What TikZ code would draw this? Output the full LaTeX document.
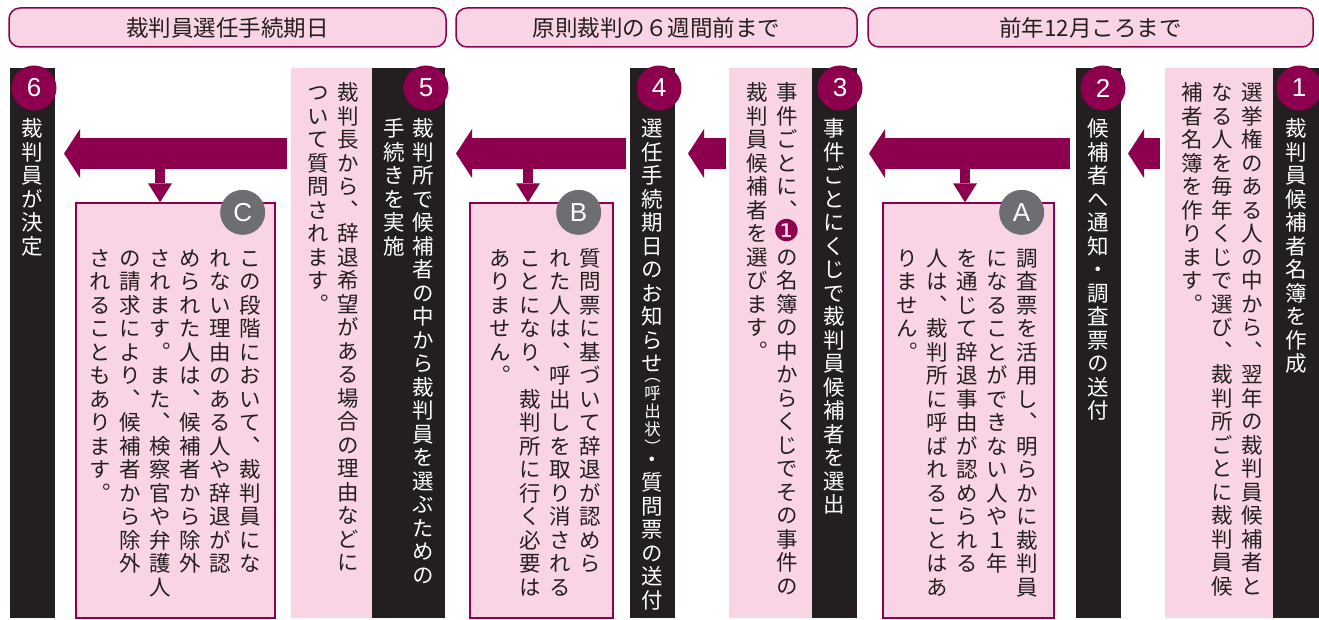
\documentclass[tikz,border=0pt]{standalone}
\usepackage{fontspec}
\setmainfont{Noto Sans CJK JP}
\newfontfamily\tatefont{Noto Sans CJK JP}[RawFeature=+vert]
\newfontfamily\numfont{Liberation Sans}
\newfontfamily\dingfont{DejaVu Sans}
\usetikzlibrary{arrows.meta, positioning}
\definecolor{saibanred}{RGB}{140,0,78}
\definecolor{saibanpink}{RGB}{249,212,229}
\definecolor{saibanblack}{RGB}{35,31,32}
\definecolor{saibangray}{RGB}{109,110,113}

% vertical (tategaki) columns
\newdimen\tatepitch \tatepitch=23.5pt
\newdimen\tatecell \tatecell=24pt
\newdimen\tatecolsep \tatecolsep=6pt
\newcommand\tatecellbox[1]{\hbox to\tatecell{\hss\smash{#1}\hss\vrule height .88\tatepitch depth .12\tatepitch width 0pt}}
\newcommand\maruichi{\raisebox{0pt}{\dingfont\fontsize{30}{30}\selectfont\color{saibanred}❶}}
\ExplSyntaxOn
\NewDocumentCommand \tatecol { m }
  {
    \vtop { \offinterlineskip \tl_map_inline:nn {#1} { \tatecellbox {##1} } }
  }
\seq_new:N \l_tate_cols_seq
\seq_new:N \l_tate_boxes_seq
\NewDocumentCommand \tatetext { m }
  {
    \seq_set_split:Nnn \l_tate_cols_seq { / } {#1}
    \seq_reverse:N \l_tate_cols_seq
    \seq_set_map:NNn \l_tate_boxes_seq \l_tate_cols_seq { \tatecol {##1} }
    \hbox:n { \seq_use:Nn \l_tate_boxes_seq { \hspace*{\tatecolsep} } }
  }
\ExplSyntaxOff

\begin{document}
\begin{tikzpicture}[x=1pt, y=-1pt,
    hdrbox/.style={draw=saibanred, line width=1.5pt, fill=saibanpink, rounded corners=11pt,
      minimum height=39pt, text=saibanblack, font=\fontsize{22.5}{26}\selectfont},
    blackstrip/.style={fill=saibanblack, minimum height=550pt, inner sep=0pt, outer sep=0pt},
    pinkbox/.style={fill=saibanpink, minimum height=550pt, inner sep=0pt, outer sep=0pt},
    notebox/.style={draw=saibanred, line width=1.3pt, fill=saibanpink, minimum height=415pt, inner sep=0pt},
    tatelbl/.style={inner sep=0pt, text=saibanblack, font=\tatefont\fontsize{21.5}{23.5}\selectfont},
    stepnum/.style={circle, fill=saibanred, minimum size=45pt, inner sep=0pt, text=white,
      font=\numfont\fontsize{26}{26}\selectfont},
    notenum/.style={stepnum, fill=saibangray},
    bigarrow/.style={draw=saibanred, line width=31pt, -{Triangle[length=16pt, width=49pt, line width=0pt]}},
    downarrow/.style={draw=saibanred, line width=10pt, -{Triangle[length=19pt, width=24pt, line width=0pt]}}
  ]
  \useasboundingbox (0,0) rectangle (1319,620);

  % time headers
  \node[hdrbox, minimum width=437pt] (h1) at (227.5,27.5) {裁判員選任手続期日};
  \node[hdrbox, minimum width=401pt] (h2) at (656.5,27.5) {原則裁判の６週間前まで};
  \node[hdrbox, minimum width=445pt] (h3) at (1090.5,27.5) {前年12月ころまで};

  % step strips
  \node[blackstrip, minimum width=46pt] (s1) at (1296,343) {};
  \node[blackstrip, minimum width=45pt] (s2) at (1098.5,343) {};
  \node[blackstrip, minimum width=45pt] (s3) at (834.5,343) {};
  \node[blackstrip, minimum width=45pt] (s4) at (652.5,343) {};
  \node[blackstrip, minimum width=73pt] (s5) at (408.5,343) {};
  \node[blackstrip, minimum width=45pt] (s6) at (32.5,343) {};

  % explanation boxes
  \node[pinkbox, minimum width=108pt, left=0pt of s1] (b1) {};
  \node[pinkbox, minimum width=83pt, left=0pt of s3] (b3) {};
  \node[pinkbox, minimum width=81pt, left=0pt of s5] (b5) {};
  \node[notebox, minimum width=171pt] (bA) at (968.5,410.5) {};
  \node[notebox, minimum width=143pt] (bB) at (541.5,410.5) {};
  \node[notebox, minimum width=199pt] (bC) at (175.5,410.5) {};

  % arrows
  \coordinate (arry) at (0,153.5);
  \draw[bigarrow] ([xshift=-5pt]b1.west |- arry) -- ([xshift=7pt]s2.east |- arry);
  \draw[bigarrow] ([xshift=-6pt]s2.west |- arry) -- ([xshift=12pt]s3.east |- arry);
  \draw[bigarrow] ([xshift=-3pt]b3.west |- arry) -- ([xshift=13pt]s4.east |- arry);
  \draw[bigarrow] ([xshift=-4pt]s4.west |- arry) -- ([xshift=11pt]s5.east |- arry);
  \draw[bigarrow] ([xshift=-4pt]b5.west |- arry) -- ([xshift=9pt]s6.east |- arry);
  \coordinate (dA) at (965,160);
  \coordinate (dB) at (528,160);
  \coordinate (dC) at (160,160);
  \draw[downarrow] (dA) -- (dA |- bA.north);
  \draw[downarrow] (dB) -- (dB |- bB.north);
  \draw[downarrow] (dC) -- (dC |- bC.north);

  % number circles
  \node[stepnum] (n1) at ([shift={(-20pt,-20pt)}]s1.north east) {1};
  \node[stepnum] (n2) at ([shift={(-18pt,-20pt)}]s2.north east) {2};
  \node[stepnum] (n3) at ([shift={(-17pt,-20pt)}]s3.north east) {3};
  \node[stepnum] (n4) at ([shift={(-16pt,-20pt)}]s4.north east) {4};
  \node[stepnum] (n5) at ([shift={(-19pt,-20pt)}]s5.north east) {5};
  \node[stepnum] (n6) at ([shift={(-21pt,-20pt)}]s6.north east) {6};
  \node[notenum] (cA) at ([shift={(-33pt,-10pt)}]bA.north east) {A};
  \node[notenum] (cB) at ([shift={(-35pt,-10pt)}]bB.north east) {B};
  \node[notenum] (cC) at ([shift={(-33pt,-10pt)}]bC.north east) {C};

  % strip titles
  \node[tatelbl, text=white, below=48pt of s1.north] (t1) {\tatecol{裁判員候補者名簿を作成}};
  \node[tatelbl, text=white, below=48pt of s2.north] (t2) {\tatecol{候補者へ通知・調査票の送付}};
  \node[tatelbl, text=white, below=48pt of s3.north] (t3) {\tatecol{事件ごとにくじで裁判員候補者を選出}};
  \node[tatelbl, text=white, below=48pt of s4.north] (t4) {\vtop{\offinterlineskip
      \tatecol{選任手続期日のお知らせ}%
      {\fontsize{16.5}{18}\selectfont
       \tatepitch=9pt\relax\tatecol{{\raisebox{1pt}{（}}}%
       \tatepitch=18pt\relax\tatecol{呼出状}%
       \tatepitch=9pt\relax\tatecol{{\raisebox{-8pt}{）}}}}%
      \tatecol{・質問票の送付}}};
  \node[tatelbl, text=white, below=48pt of s5.north] (t5) {\tatecolsep=5pt\relax
    \tatetext{裁判所で候補者の中から裁判員を選ぶための/手続きを実施}};
  \node[tatelbl, text=white, below=48pt of s6.north] (t6) {\tatecol{裁判員が決定}};

  % box texts
  \node[tatelbl, below left=12pt and 9pt of b1.north east] (p1)
    {\tatetext{選挙権のある人の中から、翌年の裁判員候補者と/なる人を毎年くじで選び、裁判所ごとに裁判員候/補者名簿を作ります。}};
  \node[tatelbl, below left=12pt and 13pt of b3.north east] (p3)
    {\tatetext{事件ごとに、\maruichi の名簿の中からくじでその事件の/裁判員候補者を選びます。}};
  \node[tatelbl, below left=12pt and 12pt of b5.north east] (p5)
    {\tatetext{裁判長から、辞退希望がある場合の理由などに/ついて質問されます。}};
  \node[tatelbl, below left=43pt and 15pt of bA.north east] (pA)
    {\tatetext{調査票を活用し、明らかに裁判員/になることができない人や１年/を通じて辞退事由が認められる/人は、裁判所に呼ばれることはあ/りません。}};
  \node[tatelbl, below left=43pt and 11pt of bB.north east] (pB)
    {\tatetext{質問票に基づいて辞退が認めら/れた人は、呼出しを取り消される/ことになり、裁判所に行く必要は/ありません。}};
  \node[tatelbl, below left=43pt and 13pt of bC.north east] (pC)
    {\tatetext{この段階において、裁判員にな/れない理由のある人や辞退が認/められた人は、候補者から除外/されます。また、検察官や弁護人/の請求により、候補者から除外/されることもあります。}};
\end{tikzpicture}
\end{document}
